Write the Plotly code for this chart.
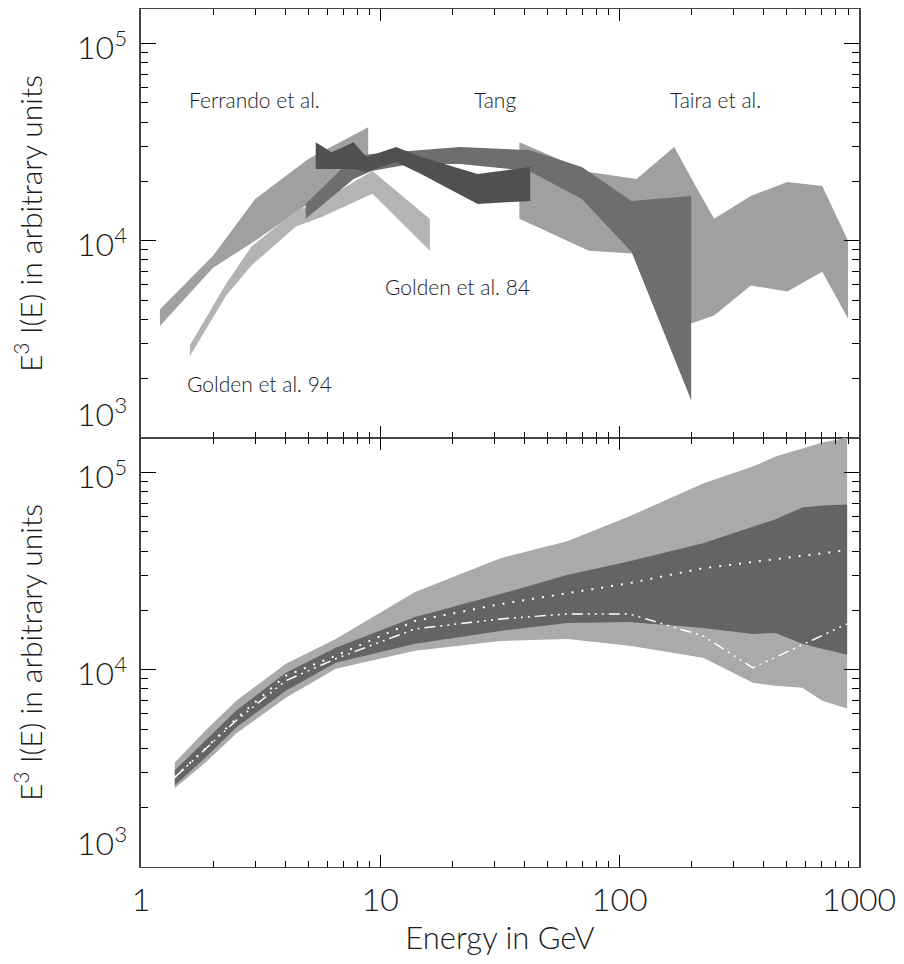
import math
import plotly.graph_objects as go
from plotly.subplots import make_subplots

# ---------------- data (top panel: measurements, bands lower/upper) ----------------
ferrando_E = [1.2, 2.0, 3.0, 5.0, 8.9]
ferrando_hi = [4500, 8400, 16300, 26000, 37600]
ferrando_lo = [3700, 7300, 10000, 15400, 23100]

golden94_E = [1.6, 2.27, 2.89, 4.44, 5.69, 9.27, 16.1]
golden94_hi = [2950, 6070, 9330, 14200, 15900, 22600, 12900]
golden94_lo = [2600, 5280, 7480, 11800, 13200, 17300, 8900]

golden84_E = [4.88, 7.73, 9.18, 13.4, 21.5, 41.9, 69.5, 112, 199]
golden84_hi = [15380, 26560, 27500, 28490, 29840, 28830, 23640, 15920, 16880]
golden84_lo = [12920, 20570, 22570, 24480, 24480, 22570, 16300, 8800, 1556]

tang_E = [5.37, 6.26, 7.73, 8.75, 11.65, 14.8, 25.5, 42.3]
tang_hi = [31620, 28140, 31620, 26560, 29840, 26560, 21790, 23640]
tang_lo = [23100, 23100, 23100, 22300, 25060, 21790, 15380, 15920]

taira_E = [38.1, 74.3, 117.7, 169, 199, 248, 353, 502, 702, 900]
taira_hi = [31620, 22300, 20570, 29840, 20800, 12920, 16880, 19860, 18960, 10000]
taira_lo = [12920, 8900, 8600, 5400, 3810, 4180, 5930, 5530, 6970, 4040]

top_labels = ["Ferrando et al.", "Tang", "Taira et al.", "Golden et al. 84", "Golden et al. 94"]
top_label_E = [2.97, 30.0, 252, 21.1, 3.12]
top_label_v = [52100, 52100, 52100, 5860, 1900]

# ---------------- data (bottom panel: model bands and lines) ----------------
model_E = [1.384, 1.86, 2.5, 4.03, 6.51, 13.97, 31.8, 60.3, 110, 223, 360, 448, 580, 702, 892]
outer_hi = [3390, 4920, 6970, 10720, 14340, 24770, 36800, 44850, 60000, 87970, 107200, 120500, 132200, 141800, 150300]
inner_hi = [3090, 4380, 6210, 9660, 12915, 18520, 24200, 30190, 35540, 43780, 53350, 57920, 66560, 68130, 68900]
inner_lo = [2595, 3590, 5095, 7830, 10840, 13530, 15740, 17280, 17470, 16300, 15200, 15380, 13530, 12770, 11910]
outer_lo = [2506, 3390, 4750, 7220, 10120, 12470, 14000, 14340, 13220, 11500, 8600, 8300, 8110, 6970, 6360]

dotted_E = [1.384, 1.86, 2.5, 4.03, 6.51, 13.97, 31.8, 60.3, 110, 223, 360, 580, 892]
dotted_v = [2850, 3990, 5660, 9330, 11770, 17690, 21540, 24480, 27500, 32740, 35100, 37650, 40370]

dashdot_E = [1.384, 1.86, 2.5, 4.03, 6.51, 13.97, 31.8, 60.3, 110, 223, 360, 892]
dashdot_v = [2850, 3990, 5530, 8800, 11370, 16110, 18100, 19180, 19180, 14850, 10230, 17080]

x_tickvals = [1, 10, 100, 1000]
x_ticktext = ["1", "10", "100", "1000"]
y_tickvals = [1e3, 1e4, 1e5]
y_ticktext = ["10<sup>3</sup>", "10<sup>4</sup>", "10<sup>5</sup>"]

FONT = "Lato"
WEIGHT = 300
TXT = "#1a1a1a"

fig = make_subplots(rows=2, cols=1, shared_xaxes=True, vertical_spacing=0)


def band(E, hi, lo, color, row):
    fig.add_trace(go.Scatter(
        x=list(E) + list(E)[::-1],
        y=list(hi) + list(lo)[::-1],
        mode="lines", fill="toself", fillcolor=color,
        line=dict(width=0, color=color), hoverinfo="skip", showlegend=False,
    ), row=row, col=1)


# top panel (drawing order matters for overlaps)
band(taira_E, taira_hi, taira_lo, "#a0a0a0", 1)
band(ferrando_E, ferrando_hi, ferrando_lo, "#a0a0a0", 1)
band(golden94_E, golden94_hi, golden94_lo, "#b4b4b4", 1)
band(golden84_E, golden84_hi, golden84_lo, "#6e6e6e", 1)
band(tang_E, tang_hi, tang_lo, "#505050", 1)

# bottom panel
band(model_E, outer_hi, outer_lo, "#aaaaaa", 2)
band(model_E, inner_hi, inner_lo, "#646464", 2)
fig.add_trace(go.Scatter(x=dotted_E, y=dotted_v, mode="lines",
                         line=dict(color="white", width=2, dash="2px,8px"),
                         hoverinfo="skip", showlegend=False), row=2, col=1)
fig.add_trace(go.Scatter(x=dashdot_E, y=dashdot_v, mode="lines",
                         line=dict(color="white", width=1.5,
                                   dash="11px,5px,2px,5px,2px,5px,2px,5px"),
                         hoverinfo="skip", showlegend=False), row=2, col=1)

for txt, e, v in zip(top_labels, top_label_E, top_label_v):
    fig.add_annotation(x=math.log10(e), y=math.log10(v), xref="x", yref="y", text=txt,
                       showarrow=False, xanchor="center", yanchor="middle",
                       font=dict(family=FONT, size=21, color=TXT, weight=WEIGHT))

# y tick labels (the lowest label of each panel sits just above its tick, as in the original)
for yref in ("y", "y2"):
    for val, txt in zip(y_tickvals, y_ticktext):
        low = val == y_tickvals[0]
        fig.add_annotation(x=0, xref="paper", y=math.log10(val), yref=yref, text=txt,
                           showarrow=False, xanchor="right",
                           yanchor="bottom" if low else "middle",
                           xshift=-12, yshift=3 if low else -1,
                           font=dict(family=FONT, size=32, color=TXT, weight=WEIGHT))

x_minor = [m * d for d in (1, 10, 100) for m in range(2, 10)]
y_minor = [m * d for d in (1e3, 1e4, 1e5) for m in range(2, 10)]

common_x = dict(type="log", range=[0, 3], tickvals=x_tickvals, ticktext=x_ticktext,
                ticks="inside", ticklen=12, tickwidth=1, tickcolor="black",
                minor=dict(ticks="inside", ticklen=6, tickwidth=1, tickcolor="black",
                           tickvals=x_minor, showgrid=False),
                showline=True, linecolor="#444444", linewidth=1.2, mirror="ticks",
                showgrid=False, zeroline=False)
common_y = dict(type="log", range=[3, 5.175], tickvals=y_tickvals, showticklabels=False,
                ticks="inside", ticklen=15, tickwidth=1, tickcolor="black",
                minor=dict(ticks="inside", ticklen=7, tickwidth=1, tickcolor="black",
                           tickvals=y_minor, showgrid=False),
                showline=True, linecolor="#444444", linewidth=1.5, mirror="ticks",
                showgrid=False, zeroline=False,
                title=dict(text="E<sup>3</sup> I(E) in arbitrary units", standoff=102,
                           font=dict(family=FONT, size=30, color=TXT, weight=WEIGHT)))

fig.update_xaxes(**common_x)
fig.update_xaxes(showticklabels=False, row=1, col=1)
fig.update_xaxes(showticklabels=True, tickfont=dict(family=FONT, size=32, color=TXT, weight=WEIGHT),
                 ticklabelstandoff=4, ticklabeloverflow="allow",
                 title=dict(text="Energy in GeV", standoff=17,
                            font=dict(family=FONT, size=31, color=TXT, weight=WEIGHT)),
                 row=2, col=1)
fig.update_yaxes(**common_y)

# the page adds an 8px body margin; size the figure so it fits the 904x964 window
fig.update_layout(width=888, height=948, margin=dict(l=133, r=31, t=0, b=89),
                  plot_bgcolor="white", paper_bgcolor="white", showlegend=False)

fig.write_html("out.html")
